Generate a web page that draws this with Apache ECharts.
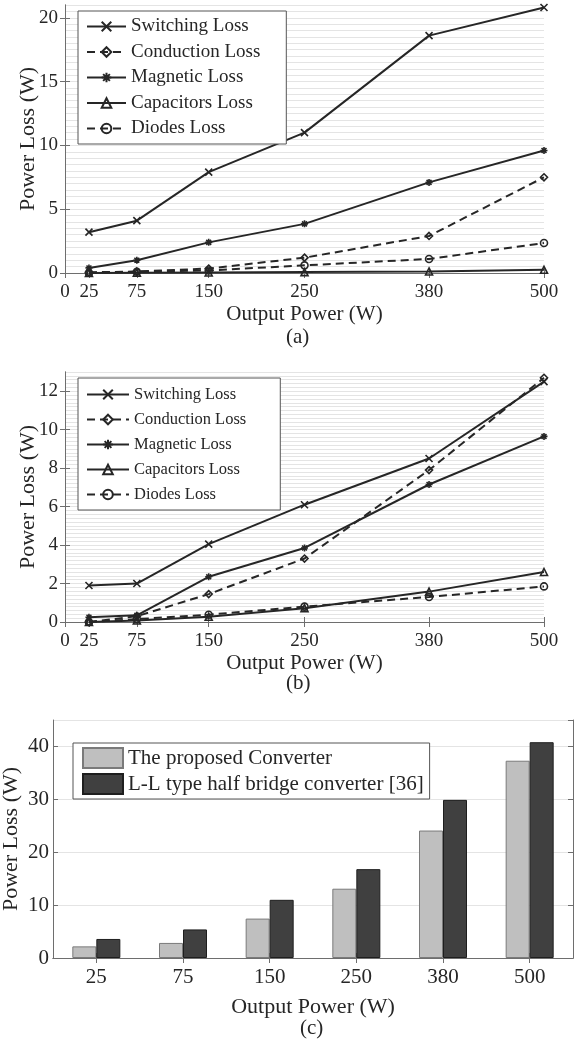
<!DOCTYPE html>
<html>
<head>
<meta charset="utf-8">
<script src="https://cdn.jsdelivr.net/npm/echarts@6/dist/echarts.min.js"></script>
<style>
html,body{margin:0;padding:0;background:#fff;}
#main{width:574px;height:1043px;}
</style>
</head>
<body>
<div id="main"></div>
<script>
// ---------- data ----------
const xPower = [25, 75, 150, 250, 380, 500];
const xTickValues = [0, 25, 75, 150, 250, 380, 500];
const seriesNames = ['Switching Loss', 'Conduction Loss', 'Magnetic Loss', 'Capacitors Loss', 'Diodes Loss'];

// (a)
const aSwitching  = [3.2, 4.1, 7.9, 11.0, 18.6, 20.8];
const aConduction = [0.05, 0.12, 0.35, 1.2, 2.9, 7.5];
const aMagnetic   = [0.4, 1.0, 2.4, 3.85, 7.1, 9.6];
const aCapacitors = [0.0, 0.02, 0.04, 0.07, 0.12, 0.25];
const aDiodes     = [0.02, 0.1, 0.2, 0.6, 1.1, 2.35];
const aYTicks = [0, 5, 10, 15, 20];

// (b)
const bSwitching  = [1.9, 2.0, 4.05, 6.1, 8.5, 12.5];
const bConduction = [0.0, 0.3, 1.45, 3.3, 7.9, 12.7];
const bMagnetic   = [0.25, 0.35, 2.35, 3.85, 7.15, 9.65];
const bCapacitors = [0.0, 0.08, 0.27, 0.72, 1.58, 2.6];
const bDiodes     = [0.0, 0.15, 0.38, 0.8, 1.3, 1.85];
const bYTicks = [0, 2, 4, 6, 8, 10, 12];

// (c)
const cCategories = ['25', '75', '150', '250', '380', '500'];
const cProposed = [2.2, 2.85, 7.45, 13.1, 24.1, 37.3];
const cLL       = [3.6, 5.4, 11.0, 16.8, 29.9, 40.8];
const cNames = ['The proposed Converter', 'L-L type half bridge converter [36]'];

// ---------- styles ----------
const FONT = "'Liberation Serif', 'Times New Roman', serif";
const INK = '#262626';
const AXIS = '#6e6e6e';
const GRID = '#e4e4e4';
const X_SYM = 'path://M0,0L10,10M10,0L0,10';
const STAR_SYM = 'path://M5,0L5,10M0,5L10,5M1.5,1.5L8.5,8.5M8.5,1.5L1.5,8.5';
const markers = [X_SYM, 'diamond', STAR_SYM, 'triangle', 'circle'];
const dashed = [false, true, false, false, true];

function zip(xs, ys) { return xs.map((x, i) => [x, ys[i]]); }

function lineSeries(gi, arrs) {
  return arrs.map((arr, k) => ({
    type: 'line',
    name: seriesNames[k],
    xAxisIndex: gi * 2,
    yAxisIndex: gi * 2,
    data: zip(xPower, arr),
    symbol: markers[k],
    symbolSize: 7,
    lineStyle: { color: INK, width: 2, type: dashed[k] ? [8, 5] : 'solid' },
    itemStyle: { color: 'rgba(255,255,255,0)', borderColor: INK, borderWidth: 1.6 },
    emphasis: { disabled: true },
    animation: false
  }));
}

function valueX(gi, top) {
  return {
    type: 'value', gridIndex: gi, min: 0, max: 500, position: top ? 'top' : 'bottom',
    axisLine: { show: true, lineStyle: { color: AXIS, width: 1 } },
    axisTick: { show: true, inside: true, length: 5, customValues: xTickValues, lineStyle: { color: AXIS } },
    axisLabel: top ? { show: false } : { show: true, customValues: xTickValues, fontFamily: FONT, fontSize: 19, color: INK, margin: 10 },
    splitLine: { show: false },
    name: top ? '' : 'Output Power (W)',
    nameLocation: 'middle', nameGap: 31, nameMoveOverlap: false,
    nameTextStyle: { fontFamily: FONT, fontSize: 21, color: INK }
  };
}

function valueY(gi, right, max, interval, ticks) {
  return {
    type: 'value', gridIndex: gi, min: 0, max: max, interval: interval, position: right ? 'right' : 'left',
    axisLine: { show: true, lineStyle: { color: AXIS, width: 1 } },
    axisTick: { show: true, inside: true, length: 5, customValues: ticks, lineStyle: { color: AXIS } },
    axisLabel: right ? { show: false } : { show: true, customValues: ticks, fontFamily: FONT, fontSize: 19, color: INK, margin: 7 },
    splitLine: { show: false },
    name: right ? '' : 'Power Loss (W)',
    nameLocation: 'middle', nameGap: 26, nameMoveOverlap: false,
    nameTextStyle: { fontFamily: FONT, fontSize: 22, color: INK }
  };
}

// helper axis that only draws the fine horizontal grid
function gridY(gi, max, interval) {
  return {
    type: 'value', gridIndex: gi, min: 0, max: max, interval: interval, position: 'left',
    axisLine: { show: false }, axisTick: { show: false }, axisLabel: { show: false },
    splitLine: { show: true, lineStyle: { color: GRID, width: 1 } }
  };
}

const option = {
  backgroundColor: '#fff',
  animation: false,
  grid: [
    { left: 65, top: 5, width: 479, height: 268, containLabel: false, outerBoundsMode: 'none' },
    { left: 65, top: 372, width: 479, height: 250, containLabel: false, outerBoundsMode: 'none' },
    { left: 53, top: 720, width: 520, height: 238, containLabel: false, outerBoundsMode: 'none' }
  ],
  xAxis: [
    valueX(0, false), valueX(0, true),
    valueX(1, false), valueX(1, true),
    {
      type: 'category', gridIndex: 2, data: cCategories, position: 'bottom',
      axisLine: { show: true, lineStyle: { color: AXIS } },
      axisTick: { show: true, inside: true, alignWithLabel: true, length: 5, lineStyle: { color: AXIS } },
      axisLabel: { fontFamily: FONT, fontSize: 21, color: INK, margin: 9 },
      name: 'Output Power (W)', nameLocation: 'middle', nameGap: 38, nameMoveOverlap: false,
      nameTextStyle: { fontFamily: FONT, fontSize: 22, color: INK }
    },
    {
      type: 'category', gridIndex: 2, data: cCategories, position: 'top',
      axisLine: { show: true, lineStyle: { color: AXIS } },
      axisTick: { show: true, inside: true, alignWithLabel: true, length: 5, lineStyle: { color: AXIS } },
      axisLabel: { show: false }
    }
  ],
  yAxis: [
    valueY(0, false, 21, 0.5, aYTicks), valueY(0, true, 21, 0.5, aYTicks),
    valueY(1, false, 13, 0.2, bYTicks), valueY(1, true, 13, 0.2, bYTicks),
    {
      type: 'value', gridIndex: 2, min: 0, max: 45, interval: 10, position: 'left',
      axisLine: { show: true, lineStyle: { color: AXIS } },
      axisTick: { show: true, inside: true, length: 5, lineStyle: { color: AXIS } },
      axisLabel: { fontFamily: FONT, fontSize: 21, color: INK, margin: 4, showMaxLabel: false },
      splitLine: { show: true, lineStyle: { color: GRID } },
      name: 'Power Loss (W)', nameLocation: 'middle', nameGap: 31, nameMoveOverlap: false,
      nameTextStyle: { fontFamily: FONT, fontSize: 22, color: INK }
    },
    {
      type: 'value', gridIndex: 2, min: 0, max: 45, interval: 10, position: 'right',
      axisLine: { show: true, lineStyle: { color: AXIS } },
      axisTick: { show: true, inside: true, length: 5, lineStyle: { color: AXIS } },
      axisLabel: { show: false }, splitLine: { show: false }
    },
    gridY(0, 21, 0.5),
    gridY(1, 13, 0.2)
  ],
  legend: [
    {
      orient: 'vertical', left: 78, top: 11, data: seriesNames,
      itemWidth: 39, itemHeight: 12, itemGap: 6.5,
      padding: [6, 26, 6, 8],
      backgroundColor: '#fff', borderColor: '#555', borderWidth: 1, borderRadius: 0,
      textStyle: { fontFamily: FONT, fontSize: 19, lineHeight: 19, color: INK },
      selectedMode: false
    },
    {
      orient: 'vertical', left: 78, top: 378, data: seriesNames,
      itemWidth: 42, itemHeight: 12, itemGap: 8,
      padding: [8, 34, 7, 8],
      backgroundColor: '#fff', borderColor: '#555', borderWidth: 1, borderRadius: 0,
      textStyle: { fontFamily: FONT, fontSize: 16.5, lineHeight: 17, color: INK },
      selectedMode: false
    },
    {
      orient: 'vertical', left: 73, top: 743, data: cNames,
      icon: 'rect', itemWidth: 40, itemHeight: 20, itemGap: 4,
      padding: [4, 6, 4, 9],
      backgroundColor: '#fff', borderColor: '#555', borderWidth: 1, borderRadius: 0,
      textStyle: { fontFamily: FONT, fontSize: 21, lineHeight: 21, color: INK },
      selectedMode: false
    }
  ],
  graphic: [
    { type: 'text', left: 286, top: 327, style: { text: '(a)', font: "21px 'Liberation Serif', serif", fill: INK } },
    { type: 'text', left: 286, top: 673, style: { text: '(b)', font: "21px 'Liberation Serif', serif", fill: INK } },
    { type: 'text', left: 300, top: 1018, style: { text: '(c)', font: "21px 'Liberation Serif', serif", fill: INK } }
  ],
  series: [
    ...lineSeries(0, [aSwitching, aConduction, aMagnetic, aCapacitors, aDiodes]),
    ...lineSeries(1, [bSwitching, bConduction, bMagnetic, bCapacitors, bDiodes]),
    {
      type: 'bar', name: cNames[0], xAxisIndex: 4, yAxisIndex: 4, data: cProposed,
      barWidth: 24, barGap: '0%',
      itemStyle: { color: '#bfbfbf', borderColor: '#7a7a7a', borderWidth: 1 },
      emphasis: { disabled: true }
    },
    {
      type: 'bar', name: cNames[1], xAxisIndex: 4, yAxisIndex: 4, data: cLL,
      barWidth: 24, barGap: '0%',
      itemStyle: { color: '#404040', borderColor: '#1e1e1e', borderWidth: 1 },
      emphasis: { disabled: true }
    }
  ]
};

const chart = echarts.init(document.getElementById('main'), null, { renderer: 'canvas' });
chart.setOption(option);
</script>
</body>
</html>
